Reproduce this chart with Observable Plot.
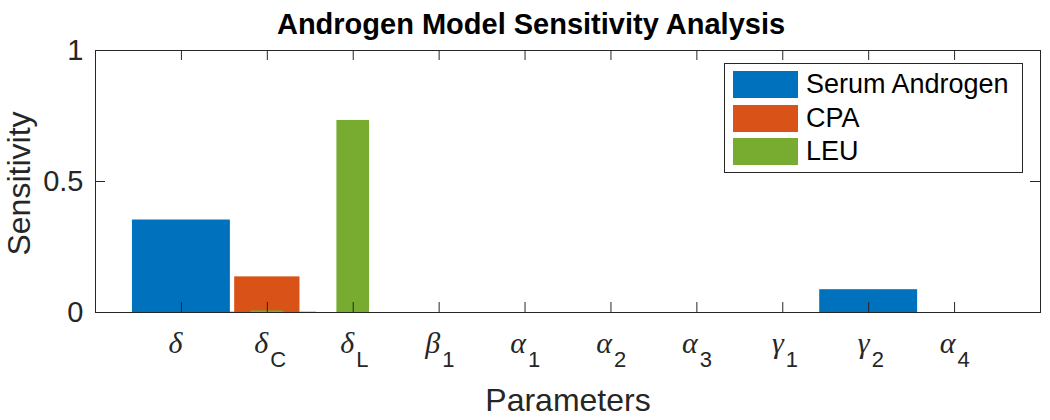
<!DOCTYPE html>
<html><head><meta charset="utf-8">
<script src="https://cdn.jsdelivr.net/npm/d3@7"></script>
<script src="https://cdn.jsdelivr.net/npm/@observablehq/plot@0.6"></script>
<style>
html,body{margin:0;padding:0;background:#fff;}
#wrap{position:relative;width:1050px;height:420px;font-family:"Liberation Sans",Arial,sans-serif;}
#wrap svg{position:absolute;left:0;top:0;}
#legend{position:absolute;left:724px;top:63px;width:299px;height:110px;border:1px solid #262626;background:#fff;box-sizing:border-box;}
.row{position:absolute;left:8px;height:27px;display:flex;align-items:center;white-space:nowrap;}
.sw{width:65px;height:27px;margin-right:8px;}
.lab{font-size:27px;color:#000;line-height:27px;}
</style></head><body><div id="wrap"></div>
<script>
// ---- data ----
const paramSymbols = ["δ","δ","δ","β","α","α","α","γ","γ","α"];
const paramSubs    = ["","C","L","1","1","2","3","1","2","4"];
const seriesNames  = ["Serum Androgen","CPA","LEU"];
const serumAndrogen = [0.353,0.001,0,0,0,0,0,0,0.087,0];
const cpa           = [0,0.136,0,0,0,0,0,0,0,0];
const leu           = [0,0.006,0.733,0,0,0,0,0,0,0];
const yTicks = [0,0.5,1];
const titleText = "Androgen Model Sensitivity Analysis";
const xLabel = "Parameters";
const yLabel = "Sensitivity";

// ---- styles ----
const colors = ["#0072BD","#D95319","#77AC30"];
const barWidths = [1.14,0.76,0.38];
const W = 1050, H = 420, mL = 95, mR = 10, mT = 50, mB = 108;
const frameW = W - mL - mR, frameH = H - mT - mB;
const axisColor = "#262626";

const seriesValues = [serumAndrogen, cpa, leu];
const rows = [];
seriesValues.forEach((vals, s) => vals.forEach((v, i) => {
  rows.push({series: seriesNames[s], s, pos: i + 1, value: v});
}));
const idx = paramSymbols.map((_, i) => i);
const xTickVals = idx.map(i => i + 1);

const chart = Plot.plot({
  width: W, height: H,
  marginLeft: mL, marginRight: mR, marginTop: mT, marginBottom: mB,
  style: {fontFamily: '"Liberation Sans", Arial, sans-serif', background: "white", overflow: "visible"},
  x: {domain: [0, 11], axis: null},
  y: {domain: [0, 1], axis: null},
  color: {domain: seriesNames, range: colors},
  marks: [
    Plot.rectY(rows, {
      x1: d => d.pos - barWidths[d.s] / 2,
      x2: d => d.pos + barWidths[d.s] / 2,
      y1: 0, y2: "value", fill: "series"
    }),
    Plot.frame({stroke: axisColor, strokeWidth: 1}),
    Plot.ruleX(xTickVals, {x: d => d, insetTop: frameH - 10, stroke: axisColor}),
    Plot.ruleX(xTickVals, {x: d => d, insetBottom: frameH - 10, stroke: axisColor}),
    Plot.ruleY(yTicks, {y: d => d, insetRight: frameW - 10, stroke: axisColor}),
    Plot.ruleY(yTicks, {y: d => d, insetLeft: frameW - 10, stroke: axisColor}),
    Plot.text(idx, {
      x: i => i + 1, text: i => paramSymbols[i], frameAnchor: "bottom",
      dy: 40, dx: 1, lineAnchor: "bottom", textAnchor: "end",
      fontFamily: '"Liberation Serif", "Times New Roman", serif', fontStyle: "italic",
      fontSize: 30, fill: axisColor
    }),
    Plot.text(idx, {
      x: i => i + 1, text: i => paramSubs[i], frameAnchor: "bottom",
      dy: 54, dx: 3, lineAnchor: "bottom", textAnchor: "start",
      fontSize: 22, fill: axisColor
    }),
    Plot.text(yTicks, {
      y: d => d, text: d => String(d), frameAnchor: "left",
      dx: -12, textAnchor: "end", fontSize: 29, fill: axisColor
    }),
    Plot.text([yLabel], {frameAnchor: "left", textAnchor: "middle", rotate: -90, dx: -76, dy: 2, fontSize: 32, fill: axisColor}),
    Plot.text([xLabel], {frameAnchor: "bottom", textAnchor: "middle", lineAnchor: "bottom", dy: 98, fontSize: 32, fill: axisColor}),
    Plot.text([titleText], {frameAnchor: "top", textAnchor: "middle", lineAnchor: "bottom", dy: -17, dx: -37, fontSize: 29, fontWeight: "bold", fill: "#000"})
  ]
});

const wrap = document.getElementById("wrap");
wrap.appendChild(chart);
const legend = document.createElement("div");
legend.id = "legend";
seriesNames.forEach((name, i) => {
  const row = document.createElement("div");
  row.className = "row";
  row.style.top = (7 + i * 33.7) + "px";
  const sw = document.createElement("div");
  sw.className = "sw"; sw.style.background = colors[i];
  const lab = document.createElement("span");
  lab.className = "lab"; lab.textContent = name;
  row.appendChild(sw); row.appendChild(lab);
  legend.appendChild(row);
});
wrap.appendChild(legend);
</script></body></html>
